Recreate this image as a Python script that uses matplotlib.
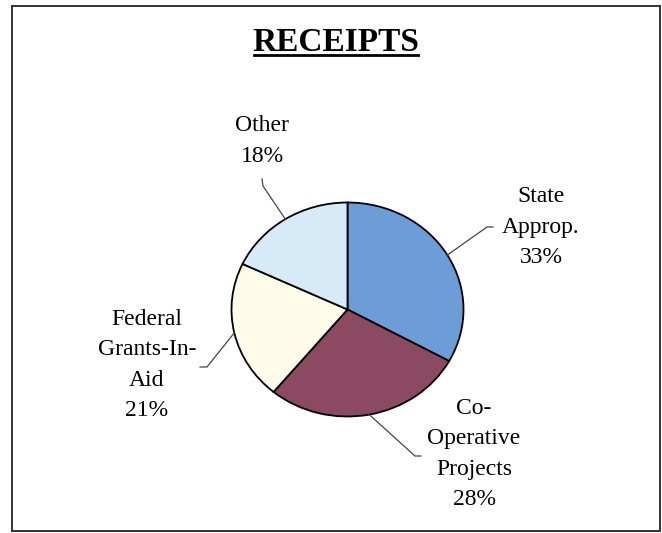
import numpy as np
import matplotlib
matplotlib.use("Agg")
import matplotlib.pyplot as plt
from matplotlib.patches import Rectangle
from matplotlib.lines import Line2D

# Data
categories = ["State\nApprop.", "Co-\nOperative\nProjects", "Federal\nGrants-In-\nAid", "Other"]
shares = [33, 28, 21, 18]
colors = ["#6d9dd6", "#8b4a62", "#fffde9", "#d6ebf7"]

plt.rcParams['font.family'] = ['Liberation Serif', 'DejaVu Serif']

W, H = 662, 533
fig = plt.figure(figsize=(W / 100, H / 100), dpi=100)


def fx(x):
    return x / W


def fy(y):
    return 1 - y / H


# frame around the whole chart
fig.patches.append(Rectangle((fx(12), fy(531)), fx(660) - fx(12), fy(6) - fy(531),
                             transform=fig.transFigure, fill=False,
                             edgecolor="#333333", linewidth=1.4))

# title with underline
fig.text(fx(336), fy(51), "RECEIPTS", ha="center", va="baseline",
         fontsize=24, fontweight="bold")
fig.lines.append(Line2D([fx(254), fx(418)], [fy(55), fy(55)],
                        transform=fig.transFigure, color="black", linewidth=2))

# pie (slightly elliptical, as in the original)
cx, cy, rx, ry = 347.5, 309.5, 116, 107
ax = fig.add_axes([fx(cx - rx), fy(cy + ry), 2 * rx / W, 2 * ry / H])
wedges, _ = ax.pie(shares, colors=colors, startangle=90, counterclock=False,
                   wedgeprops=dict(edgecolor="black", linewidth=1.3))
ax.set_aspect("auto")
ax.set_xlim(-1, 1)
ax.set_ylim(-1, 1)
ax.axis("off")


def to_data(px, py):
    return (px - cx) / rx, (cy - py) / ry


# label centres and leader elbows (pixels)
label_pos = [(541, 227), (474, 454), (147, 365), (262, 141)]
elbows = [[(487, 227), (493, 227)],
          [(415, 456), (421, 456)],
          [(207, 367), (200, 367)],
          [(263, 186), (262, 179)]]

for w, lab, share, (lx, ly), elb in zip(wedges, categories, shares, label_pos, elbows):
    mid = np.deg2rad((w.theta1 + w.theta2) / 2)
    xs = [np.cos(mid)] + [to_data(*p)[0] for p in elb]
    ys = [np.sin(mid)] + [to_data(*p)[1] for p in elb]
    ax.plot(xs, ys, color="#444444", linewidth=0.9, clip_on=False)
    fig.text(fx(lx), fy(ly), f"{lab}\n{share}%", ha="center", va="center",
             fontsize=17, linespacing=1.6)

fig.savefig("out.png", dpi=100)
